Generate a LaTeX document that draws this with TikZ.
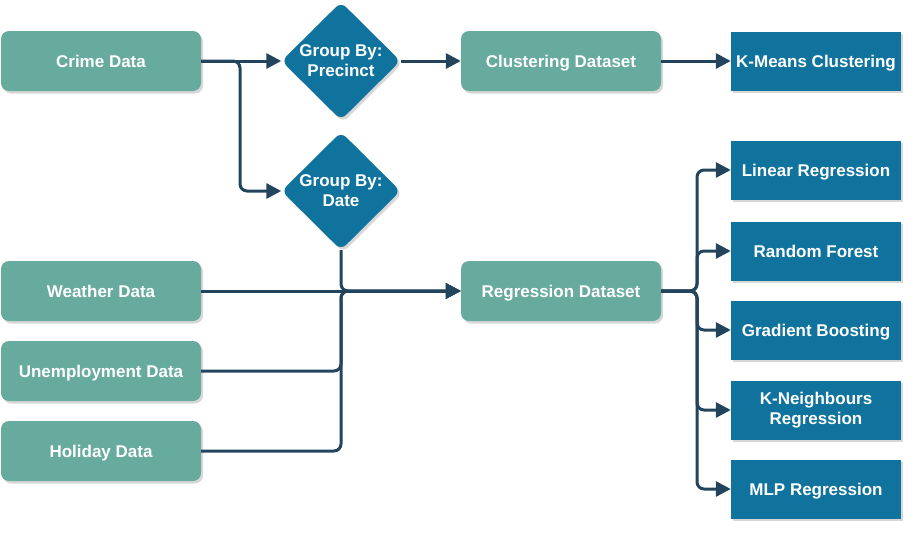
\documentclass[tikz,border=0pt]{standalone}
\usepackage{fontspec}
\setmainfont{Liberation Sans}
\usetikzlibrary{shapes.geometric,shadows,arrows.meta}
\definecolor{grn}{HTML}{67AB9F}
\definecolor{blu}{HTML}{10739E}
\definecolor{nav}{HTML}{23445D}
\tikzset{
  shd/.style={drop shadow={shadow xshift=2pt,shadow yshift=-2.5pt,opacity=0.35,fill=black!45}},
  lbl/.style={text=white,font=\fontsize{17}{20}\selectfont\bfseries,align=center},
  one/.style={text height=16.2pt,text depth=4pt},
  gbox/.style={shd,lbl,one,fill=grn,draw=none,rounded corners=8pt,minimum width=200pt,minimum height=60pt,inner sep=0pt},
  bbox/.style={shd,lbl,fill=blu,draw=none,minimum width=170pt,minimum height=59pt,inner sep=0pt},
  dia/.style={shd,diamond,fill=blu,draw=none,rounded corners=7pt,minimum width=119pt,minimum height=118pt,inner sep=0pt},
  dtxt/.style={lbl,inner sep=0pt},
  conn/.style={draw=nav,line width=3pt,rounded corners=7pt,-{Triangle[length=15pt,width=15pt]}},
}
\begin{document}
\begin{tikzpicture}[x=1pt,y=-1pt]
\useasboundingbox (0,0) rectangle (915,536);
% green boxes
\node[gbox] (crime) at (101,61) {Crime Data};
\node[gbox] (weather) at (101,291) {Weather Data};
\node[gbox] (unemp) at (101,371) {Unemployment Data};
\node[gbox] (holiday) at (101,451) {Holiday Data};
\node[gbox] (clust) at (561,61) {Clustering Dataset};
\node[gbox] (reg) at (561,291) {Regression Dataset};
% diamonds
\node[dia] (prec) at (341,61) {};
\node[dtxt] (prect) at (341,61) {Group By:\\Precinct};
\node[dia] (date) at (341,191) {};
\node[dtxt] (datet) at (341,191) {Group By:\\Date};
% blue boxes
\node[bbox,one] (km) at (816,61) {K-Means Clustering};
\node[bbox,one] (lr) at (816,170) {Linear Regression};
\node[bbox,one] (rf) at (816,251) {Random Forest};
\node[bbox,one] (gb) at (816,330) {Gradient Boosting};
\node[bbox] (kn) at (816,410) {K-Neighbours\\Regression};
\node[bbox,one] (mlp) at (816,489) {MLP Regression};
% junction coordinates
\coordinate (j1) at (240,61);
\coordinate (j2) at (341,291);
\coordinate (j3) at (697,291);
% connectors
\draw[conn] (crime.east) -- (prec.west);
\draw[conn] (crime.east) -- (j1) |- (date.west);
\draw[conn] (prec.east) -- (clust.west);
\draw[conn] (clust.east) -- (km.west);
\draw[conn] (weather.east) -- (reg.west);
\draw[conn] (date.south) -- (j2) -- (reg.west);
\draw[conn] (unemp.east) -| (j2) -- (reg.west);
\draw[conn] (holiday.east) -| (j2) -- (reg.west);
\draw[conn] (reg.east) -- (j3) |- (lr.west);
\draw[conn] (reg.east) -- (j3) |- (rf.west);
\draw[conn] (reg.east) -- (j3) |- (gb.west);
\draw[conn] (reg.east) -- (j3) |- (kn.west);
\draw[conn] (reg.east) -- (j3) |- (mlp.west);
\end{tikzpicture}
\end{document}
